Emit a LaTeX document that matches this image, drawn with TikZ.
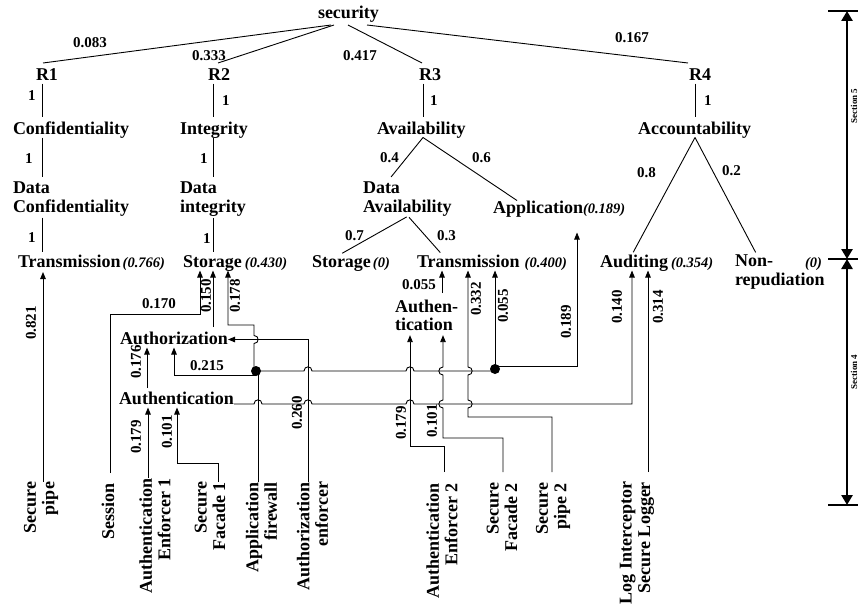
\documentclass[tikz,border=0pt]{standalone}
\usepackage{fontspec}
\setmainfont{Liberation Serif}
\usetikzlibrary{arrows.meta}
\newcommand\valtxt[1]{{\fontsize{14.5}{16}\selectfont\bfseries\itshape #1}}
\tikzset{
  hop/.style 2 args={insert path={-- (#1-4,#2) .. controls (#1-4,#2-5.5) and (#1+4,#2-5.5) .. (#1+4,#2)}},
  vbl/.style 2 args={insert path={-- (#1,#2+4) .. controls (#1-5.5,#2+4) and (#1-5.5,#2-4) .. (#1,#2-4)}},
  vbr/.style 2 args={insert path={-- (#1,#2+4) .. controls (#1+5.5,#2+4) and (#1+5.5,#2-4) .. (#1,#2-4)}},
  lbl/.style={font=\fontsize{18}{18.5}\selectfont\bfseries, inner sep=0pt, outer sep=0pt, text height=12.5pt, text depth=3.5pt, anchor=base west},
  mlbl/.style={font=\fontsize{18}{18.5}\selectfont\bfseries, inner sep=0pt, outer sep=0pt, align=left, anchor=north west},
  rlbl/.style={font=\fontsize{18}{18.5}\selectfont\bfseries, inner sep=0pt, outer sep=0pt, align=right, rotate=90, anchor=east},
  wnum/.style={font=\fontsize{15}{16}\selectfont\bfseries, inner sep=0pt, outer sep=0pt, anchor=base west},
  rnum/.style={font=\fontsize{15}{16}\selectfont\bfseries, inner sep=0pt, outer sep=0pt, rotate=90},
  seclbl/.style={font=\fontsize{9}{10}\selectfont\bfseries, inner sep=0pt, outer sep=0pt, rotate=90},
  ln/.style={line width=0.9pt, draw=black},
  arr/.style={ln, -{Triangle[length=7pt,width=5.5pt]}},
  dimln/.style={line width=2.6pt},
  dimarr/.style={dimln, {Triangle[length=10pt,width=11pt]}-{Triangle[length=10pt,width=11pt]}},
}
\begin{document}
\begin{tikzpicture}[x=1pt,y=-1pt]
\useasboundingbox (0,0) rectangle (858,610);
\fill[white] (0,0) rectangle (858,610);
\clip (0,0) rectangle (858,610);

% ---------- upper tree ----------
\node[lbl, text depth=6pt] (sec) at (318,19) {security};
\node[lbl, text height=17pt] (R1) at (36,80) {R1};
\node[lbl, text height=17pt] (R2) at (208,80) {R2};
\node[lbl, text height=17pt] (R3) at (419,80) {R3};
\node[lbl, text height=17pt] (R4) at (689,80) {R4};
\node[lbl] (conf) at (13,134) {Confidentiality};
\node[lbl] (integ) at (180,134) {Integrity};
\node[lbl] (avail) at (377,134) {Availability};
\node[lbl] (acct) at (638,134) {Accountability};
\node[mlbl] (dconf) at (13,182) {Data\\Confidentiality};
\node[mlbl] (dint) at (180,182) {Data\\integrity};
\node[mlbl] (davail) at (363,182) {Data\\Availability};
\node[lbl] (app) at (493,213) {Application\valtxt{(0.189)}};
\node[lbl] (tr1) at (18,267) {Transmission\kern2pt\valtxt{(0.766)}};
\node[lbl] (st1) at (183,267) {Storage\kern3pt\valtxt{(0.430)}};
\node[lbl] (st2) at (312,267) {Storage\kern2pt\valtxt{(0)}};
\node[lbl] (tr2) at (417,267) {Transmission\kern5pt\valtxt{(0.400)}};
\node[lbl] (aud) at (600,267) {Auditing\kern3pt\valtxt{(0.354)}};
\node[mlbl] (nonrep) at (735,255) {Non-\\repudiation};
\node[lbl] (zero) at (805,267) {\valtxt{(0)}};

\node[wnum] (n1) at (73,48) {0.083};
\node[wnum] (n2) at (192,60) {0.333};
\node[wnum] (n3) at (343,60) {0.417};
\node[wnum] (n4) at (615,43) {0.167};
\node[wnum] (n5) at (28,100) {1};
\node[wnum] (n6) at (222,105) {1};
\node[wnum] (n7) at (430,105) {1};
\node[wnum] (n8) at (704,105) {1};
\node[wnum] (n9) at (25,163) {1};
\node[wnum] (n10) at (200,163) {1};
\node[wnum] (n11) at (28,242) {1};
\node[wnum] (n12) at (203,243) {1};
\node[wnum] (n13) at (380,162) {0.4};
\node[wnum] (n14) at (472,162) {0.6};
\node[wnum] (n15) at (345,240) {0.7};
\node[wnum] (n16) at (437,240) {0.3};
\node[wnum] (n17) at (637,177) {0.8};
\node[wnum] (n18) at (722,175) {0.2};

\draw[ln] (331,0 |- sec.south) -- (43,0 |- R1.north);
\draw[ln] (334,0 |- sec.south) -- (218,0 |- R2.north);
\draw[ln] (348,0 |- sec.south) -- (422,0 |- R3.north);
\draw[ln] (367,0 |- sec.south) -- (688,0 |- R4.north);
\draw[ln, shorten >=4.5pt] (42,0 |- R1.south) -- (42,0 |- conf.north);
\draw[ln, shorten >=4.5pt] (213,0 |- R2.south) -- (213,0 |- integ.north);
\draw[ln, shorten >=4.5pt] (423,0 |- R3.south) -- (423,0 |- avail.north);
\draw[ln, shorten >=4.5pt] (695,0 |- R4.south) -- (695,0 |- acct.north);
\draw[ln, shorten >=5pt] (42,0 |- conf.south) -- (42,0 |- dconf.north);
\draw[ln, shorten >=5pt] (213,0 |- integ.south) -- (213,0 |- dint.north);
\draw[ln, shorten <=1.5pt, shorten >=2.5pt] (42,0 |- dconf.south) -- (42,0 |- tr1.north);
\draw[ln, shorten <=1.5pt, shorten >=2.5pt] (213,0 |- dint.south) -- (213,0 |- st1.north);
\draw[ln, shorten >=6.5pt] (423,0 |- avail.south) -- (387,0 |- davail.north);
\draw[ln] (423,0 |- avail.south) -- (517,0 |- app.north);
\draw[ln, shorten <=1.5pt, shorten >=2.5pt] (408,0 |- davail.south) -- (340,0 |- st2.north);
\draw[ln, shorten <=1.5pt, shorten >=2.5pt] (408,0 |- davail.south) -- (442,0 |- tr2.north);
\draw[ln, shorten >=2.5pt] (695,0 |- acct.south) -- (632,0 |- aud.north);
\draw[ln, shorten >=3pt] (695,0 |- acct.south) -- (757,0 |- nonrep.north);

% ---------- lower part ----------
\node[lbl] (az1) at (120,344) {Authorization};
\node[lbl] (au1) at (119,404) {Authentication};
\node[mlbl] (au2) at (395,300) {Authen-\\tication};
\node[rlbl] (sp1) at (41,482) {Secure\\pipe};
\node[rlbl] (ses) at (108,483) {Session};
\node[rlbl] (ae1) at (155,478) {Authentication\\Enforcer 1};
\node[rlbl] (sf1) at (210,482) {Secure\\Facade 1};
\node[rlbl] (afw) at (261.5,482) {Application\\firewall};
\node[rlbl] (aze) at (312.5,482) {Authorization\\enforcer};
\node[rlbl] (ae2) at (442,483) {Authentication\\Enforcer 2};
\node[rlbl] (sf2) at (502,483) {Secure\\Facade 2};
\node[rlbl] (sp2) at (553,483) {Secure\\pipe 2};
\node[rlbl] (lis) at (637,482) {Log Interceptor\\Secure Logger};

\coordinate (d1) at (256,371);
\coordinate (d2) at (495,369);

\draw[arr, shorten >=1.5pt] (43,0 |- sp1.east) -- (43,0 |- tr1.south);
\draw[arr, shorten <=10pt] (110,0 |- ses.east) -- (110,314) -- (200,314) -- (200,0 |- st1.south);
\draw[arr, shorten <=4.5pt] (213,0 |- az1.north) -- (213,0 |- st1.south);
\draw[arr] ([xshift=-2pt]d1) [vbr={254}{339.5}] -- (254,325) -- (228,325) -- (228,0 |- st1.south);
\draw[ln] (258,0 |- afw.east) -- ([xshift=2pt]d1);
\draw[arr] ([yshift=-4pt]d1) -| (174,0 |- az1.south);
\draw[ln] (d1) [hop={308}{371}] [hop={410}{371}] -- ([yshift=-2pt]d2);
\draw[arr] (d2) -- (495,0 |- tr2.south);
\draw[arr, shorten >=16pt] ([yshift=3pt]d2) -| (577,0 |- app.south);
\draw[arr] (308,0 |- aze.east) |- (az1.east);
\draw[arr, shorten <=3.5pt] (147,0 |- au1.north) -- (147,0 |- az1.south);
\draw[arr] (148,0 |- ae1.east) -- (148,0 |- au1.south);
\draw[arr] (218,0 |- sf1.east) -- (218,463) -- (177,463) -- (177,0 |- au1.south);
\draw[arr] (au1.base east) [hop={258}{404}] [hop={308}{404}] [hop={410}{404}] -- (632,404) -- (632,0 |- aud.south);
\draw[arr, shorten <=10pt] (648,0 |- lis.east) -- (648,0 |- aud.south);
\draw[arr, shorten <=11pt, shorten >=4pt] (444,0 |- ae2.east) -- (444,446) -- (410,446) -- (410,0 |- au2.south);
\draw[arr, shorten <=11pt, shorten >=4pt] (503,0 |- sf2.east) -- (503,438) -- (443,438) [vbl={443}{404}] [vbl={443}{371}] -- (443,0 |- au2.south);
\draw[arr, shorten <=11pt] (552,0 |- sp2.east) -- (552,417) -- (468,417) [vbr={468}{404}] [vbr={468}{371}] -- (468,0 |- tr2.south);
\draw[arr, shorten <=7pt] (442,0 |- au2.north) -- (442,0 |- tr2.south);
\fill (d1) circle[radius=5pt];
\fill (d2) circle[radius=5pt];

\node[wnum] (m1) at (142,308) {0.170};
\node[wnum] (m2) at (190,370) {0.215};
\node[wnum] (m3) at (402,289) {0.055};
\node[rnum] (r1) at (31,323) {0.821};
\node[rnum] (r2) at (206,296) {0.150};
\node[rnum] (r3) at (235,296) {0.178};
\node[rnum] (r4) at (136,362) {0.176};
\node[rnum] (r5) at (136,437) {0.179};
\node[rnum] (r6) at (167,432) {0.101};
\node[rnum] (r7) at (297,413) {0.260};
\node[rnum] (r8) at (401,423) {0.179};
\node[rnum] (r9) at (432,421) {0.101};
\node[rnum] (r10) at (476,299) {0.332};
\node[rnum] (r11) at (503,306) {0.055};
\node[rnum] (r12) at (566,322) {0.189};
\node[rnum] (r13) at (617,307) {0.140};
\node[rnum] (r14) at (658,307) {0.314};

% ---------- section brackets ----------
\draw[dimln] (828,11) -- (858,11);
\draw[dimln] (828,259) -- (858,259);
\draw[dimln] (828,505) -- (858,505);
\draw[dimarr] (847,11) -- (847,259);
\draw[dimarr] (847,259) -- (847,505);
\node[seclbl] (s5) at (854,106) {Section 5};
\node[seclbl] (s4) at (854,372) {Section 4};
\end{tikzpicture}
\end{document}
